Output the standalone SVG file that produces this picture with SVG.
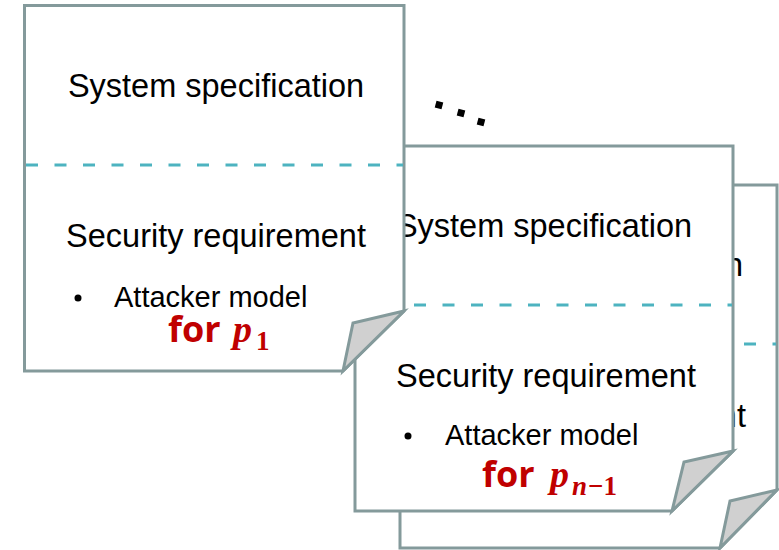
<svg xmlns="http://www.w3.org/2000/svg" width="779" height="550" viewBox="0 0 779 550">
  <style>
    .card { fill: #ffffff; stroke: #849a9b; stroke-width: 3; stroke-linejoin: miter; }
    .fold { fill: #d0d0d0; stroke: #849a9b; stroke-width: 3; stroke-linejoin: miter; }
    .split { stroke: #4db3c0; stroke-width: 3; stroke-dasharray: 12 16.5; fill: none; }
    .head { font-family: "Liberation Sans", Arial, sans-serif; font-size: 32.5px; fill: #000000; text-anchor: middle; }
    .item { font-family: "Liberation Sans", Arial, sans-serif; font-size: 29px; fill: #000000; }
    .for { font-family: "Open Sans", "Liberation Sans", sans-serif; font-weight: 700; font-size: 36px; fill: #c00000; }
    .var { font-family: "Liberation Serif", "DejaVu Serif", serif; font-style: italic; font-weight: 700; font-size: 38px; fill: #c00000; }
    .sub { font-family: "Liberation Serif", "DejaVu Serif", serif; font-weight: 700; font-size: 27px; fill: #c00000; }
    .subv { font-style: italic; }
    .dot { fill: #000000; }
  </style>

  <!-- back card (p_n), mostly hidden behind the others -->
  <g id="card-n">
    <path class="card" d="M400,185 H777 V490 L720,548 H400 Z"/>
    <path class="fold" d="M777,490 L730,501 L720,548 Z"/>
    <line class="split" x1="402" y1="344" x2="776" y2="344"/>
    <text class="head" x="595" y="276">System specification</text>
    <text class="head" x="596" y="427">Security requirement</text>
  </g>

  <!-- middle card (p_{n-1}) -->
  <g id="card-n-1">
    <path class="card" d="M355,146 H733 V451 L672,511 H355 Z"/>
    <path class="fold" d="M733,451 L684,462 L672,511 Z"/>
    <line class="split" x1="357" y1="305" x2="732" y2="305"/>
    <text class="head" x="544" y="237">System specification</text>
    <text class="head" x="546" y="387">Security requirement</text>
    <circle class="dot" cx="408" cy="436" r="3.5"/>
    <text class="item" x="445" y="445">Attacker model</text>
    <text x="482" y="487"><tspan class="for">for</tspan><tspan class="var" x="550">p</tspan><tspan class="sub subv" x="572" dy="8">n</tspan><tspan class="sub" dx="1">−1</tspan></text>
  </g>

  <!-- front card (p_1) -->
  <g id="card-1">
    <path class="card" d="M24.5,5.5 H404 V311 L343,371 H24.5 Z"/>
    <path class="fold" d="M404,311 L353,323 L343,371 Z"/>
    <line class="split" x1="26" y1="165" x2="403" y2="165"/>
    <text class="head" x="216" y="97">System specification</text>
    <text class="head" x="216" y="247">Security requirement</text>
    <circle class="dot" cx="78" cy="298" r="3.5"/>
    <text class="item" x="114" y="307">Attacker model</text>
    <text x="168" y="342"><tspan class="for">for</tspan><tspan class="var" x="233">p</tspan><tspan class="sub" x="256" dy="8">1</tspan></text>
  </g>

  <!-- ellipsis between the first and the later cards -->
  <g id="ellipsis">
    <rect class="dot" x="-3.5" y="-3.5" width="7" height="7" transform="translate(439,105) rotate(15)"/>
    <rect class="dot" x="-3.5" y="-3.5" width="7" height="7" transform="translate(461,113) rotate(15)"/>
    <rect class="dot" x="-3.5" y="-3.5" width="7" height="7" transform="translate(481,122) rotate(15)"/>
  </g>
</svg>
